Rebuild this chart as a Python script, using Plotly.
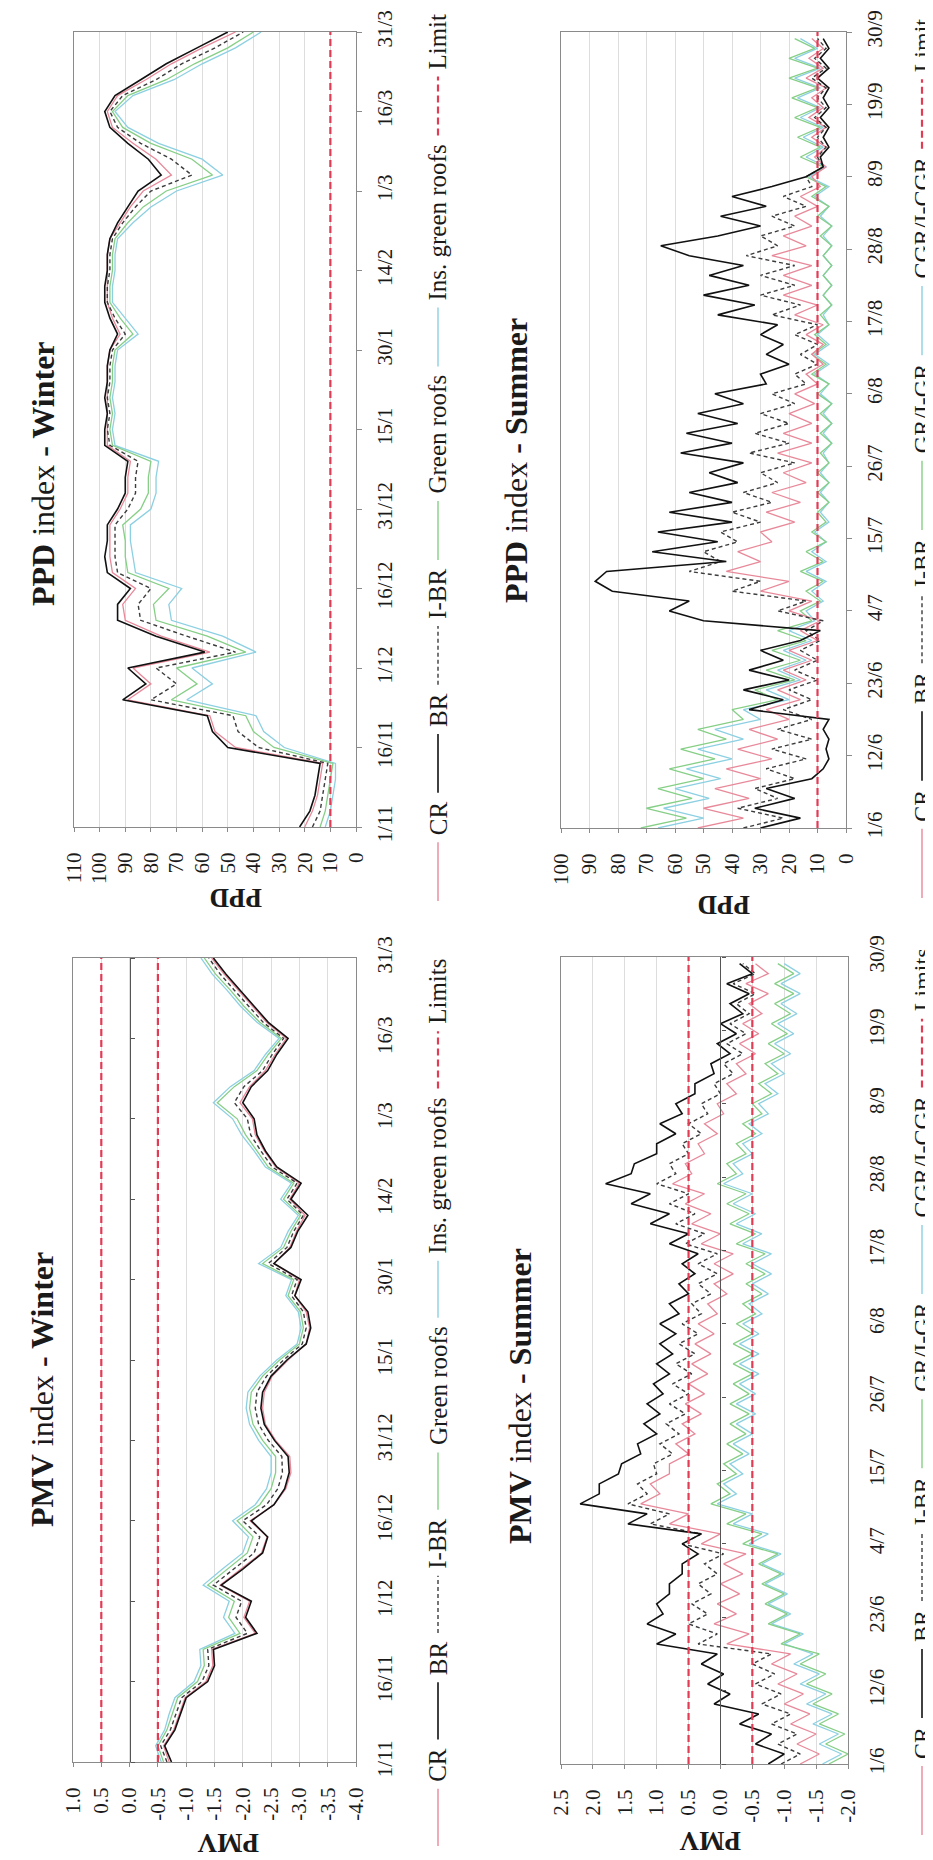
import plotly.graph_objects as go

W, H = 933, 1860
SERIF = "Liberation Serif, Times New Roman, serif"
INK = "#1a1a1a"
FRAME = "#8a8a8a"
GRID = "#dddddd"

# ---------------- time axes ----------------
winter_tick_days = [0, 15, 30, 45, 60, 75, 90, 105, 120, 135, 150]
winter_tick_labels = ["1/11", "16/11", "1/12", "16/12", "31/12", "15/1", "30/1",
                      "14/2", "1/3", "16/3", "31/3"]
summer_tick_days = [0, 11, 22, 33, 44, 55, 66, 77, 88, 99, 110, 121]
summer_tick_labels = ["1/6", "12/6", "23/6", "4/7", "15/7", "26/7", "6/8",
                      "17/8", "28/8", "8/9", "19/9", "30/9"]
winter_days = [3 * i for i in range(51)]      # one reading every 3 days (1/11 .. 31/3)
summer_days = [1.5 * i for i in range(81)]    # one reading every 1.5 days (1/6 .. 29/9)

# ---------------- value axes ----------------
ppd_w_ticks = [110, 100, 90, 80, 70, 60, 50, 40, 30, 20, 10, 0]
ppd_w_labels = ["110", "100", "90", "80", "70", "60", "50", "40", "30", "20", "10", "0"]
ppd_s_ticks = [100, 90, 80, 70, 60, 50, 40, 30, 20, 10, 0]
ppd_s_labels = ["100", "90", "80", "70", "60", "50", "40", "30", "20", "10", "0"]
pmv_w_ticks = [1.0, 0.5, 0.0, -0.5, -1.0, -1.5, -2.0, -2.5, -3.0, -3.5, -4.0]
pmv_w_labels = ["1.0", "0.5", "0.0", "-0.5", "-1.0", "-1.5", "-2.0", "-2.5", "-3.0", "-3.5", "-4.0"]
pmv_s_ticks = [2.5, 2.0, 1.5, 1.0, 0.5, 0.0, -0.5, -1.0, -1.5, -2.0]
pmv_s_labels = ["2.5", "2.0", "1.5", "1.0", "0.5", "0.0", "-0.5", "-1.0", "-1.5", "-2.0"]

winter_names = ["CR", "BR", "I-BR", "Green roofs", "Ins. green roofs"]
summer_names = ["CR", "BR", "I-BR", "GR/I-GR", "CGR/I-CGR"]

# ---------------- PPD - Winter ----------------
ppd_w_cr = [20, 17, 15, 14, 13, 47, 55, 57, 89, 80, 87, 57, 76, 90, 91, 86, 95, 96, 96, 96, 92, 89, 89, 88, 97, 97,
            97, 97, 97, 97, 96, 92, 95, 97, 97, 97, 97, 96, 92, 88, 83, 72, 78, 87, 95, 97, 93, 82, 72, 60, 47]
ppd_w_br = [22, 18, 16, 15, 14, 50, 56, 58, 91, 82, 89, 59, 78, 93, 93, 88, 97, 98, 97, 97, 93, 90, 90, 89, 98, 98,
            97, 98, 97, 97, 96, 93, 96, 98, 98, 97, 97, 96, 93, 89, 85, 76, 81, 89, 96, 98, 94, 84, 74, 62, 50]
ppd_w_ibr = [17, 14, 13, 12, 11, 38, 46, 48, 80, 70, 78, 47, 66, 84, 85, 80, 93, 94, 94, 94, 89, 86, 86, 85, 96, 97,
             96, 97, 96, 96, 95, 90, 94, 97, 97, 96, 96, 95, 91, 86, 80, 64, 72, 84, 93, 96, 91, 78, 68, 55, 44]
ppd_w_gr = [14, 12, 11, 10, 9, 32, 40, 43, 72, 62, 70, 43, 58, 78, 79, 73, 89, 90, 90, 91, 84, 81, 81, 80, 95, 96,
            95, 96, 95, 95, 94, 87, 92, 96, 96, 95, 95, 94, 89, 83, 74, 56, 64, 80, 91, 95, 89, 74, 63, 50, 40]
ppd_w_ins = [12, 10, 9, 8, 8, 28, 36, 39, 66, 56, 64, 39, 52, 72, 73, 68, 86, 87, 88, 88, 80, 78, 78, 77, 94, 95,
             94, 95, 94, 94, 93, 85, 90, 95, 95, 94, 94, 93, 87, 80, 70, 52, 60, 77, 89, 94, 87, 71, 60, 47, 37]

# ---------------- PMV - Winter ----------------
pmv_w_cr = [-0.70, -0.60, -0.78, -0.88, -0.98, -1.35, -1.47, -1.45, -2.22, -2.02, -2.12, -1.60, -1.97, -2.33,
            -2.43, -2.13, -2.55, -2.76, -2.85, -2.83, -2.58, -2.40, -2.35, -2.38, -2.52, -2.80, -3.12, -3.18,
            -3.12, -2.92, -3.00, -2.55, -2.83, -2.95, -3.10, -2.83, -3.00, -2.58, -2.38, -2.22, -2.17, -1.95,
            -2.12, -2.40, -2.57, -2.77, -2.42, -2.17, -1.92, -1.67, -1.45]
pmv_w_br = [-0.74, -0.62, -0.80, -0.90, -1.00, -1.38, -1.50, -1.48, -2.25, -2.05, -2.15, -1.62, -2.00, -2.35,
            -2.44, -2.15, -2.55, -2.74, -2.82, -2.80, -2.56, -2.38, -2.32, -2.35, -2.50, -2.78, -3.12, -3.20,
            -3.15, -2.92, -3.03, -2.55, -2.85, -2.97, -3.15, -2.85, -3.03, -2.60, -2.40, -2.25, -2.20, -2.00,
            -2.15, -2.44, -2.60, -2.80, -2.45, -2.20, -1.95, -1.70, -1.48]
pmv_w_ibr = [-0.66, -0.55, -0.72, -0.82, -0.92, -1.28, -1.40, -1.38, -2.08, -1.88, -1.98, -1.48, -1.84, -2.20,
             -2.30, -2.00, -2.42, -2.62, -2.70, -2.69, -2.45, -2.28, -2.22, -2.25, -2.42, -2.72, -3.05, -3.12,
             -3.07, -2.86, -2.96, -2.45, -2.78, -2.90, -3.07, -2.78, -2.96, -2.52, -2.32, -2.14, -2.08, -1.85,
             -2.02, -2.35, -2.52, -2.72, -2.36, -2.10, -1.85, -1.60, -1.40]
pmv_w_gr = [-0.60, -0.50, -0.66, -0.75, -0.85, -1.20, -1.32, -1.30, -1.95, -1.75, -1.85, -1.38, -1.72, -2.08,
            -2.18, -1.90, -2.30, -2.50, -2.58, -2.58, -2.35, -2.18, -2.12, -2.15, -2.35, -2.65, -3.00, -3.07,
            -3.02, -2.80, -2.90, -2.35, -2.72, -2.85, -3.02, -2.72, -2.90, -2.45, -2.25, -2.05, -1.90, -1.55,
            -1.85, -2.25, -2.45, -2.68, -2.30, -2.02, -1.78, -1.52, -1.32]
pmv_w_ins = [-0.56, -0.46, -0.62, -0.70, -0.80, -1.14, -1.26, -1.24, -1.86, -1.66, -1.76, -1.30, -1.64, -2.00,
             -2.10, -1.82, -2.22, -2.42, -2.50, -2.50, -2.28, -2.12, -2.06, -2.09, -2.30, -2.60, -2.96, -3.03,
             -2.98, -2.76, -2.86, -2.28, -2.67, -2.80, -2.98, -2.67, -2.86, -2.40, -2.20, -1.98, -1.82, -1.48,
             -1.78, -2.20, -2.40, -2.64, -2.25, -1.96, -1.72, -1.46, -1.26]

# ---------------- PPD - Summer ----------------
ppd_s_cr = [52, 36, 50, 34, 46, 30, 42, 26, 38, 24, 34, 20, 28, 16, 24, 14, 22, 12, 20, 10, 16, 9, 20, 12, 30, 20,
            42, 30, 38, 26, 30, 18, 28, 16, 26, 14, 22, 12, 24, 12, 22, 12, 20, 11, 18, 10, 14, 8, 12, 8, 14, 8,
            18, 10, 22, 12, 22, 12, 26, 14, 22, 12, 18, 10, 16, 9, 12, 7, 11, 7, 12, 7, 13, 8, 12, 7, 14, 8, 13, 8, 12]
ppd_s_br = [30, 16, 32, 18, 28, 12, 8, 6, 7, 6, 8, 6, 34, 22, 36, 20, 34, 22, 30, 16, 9, 50, 62, 55, 82, 88,
            84, 42, 68, 45, 66, 40, 62, 40, 55, 38, 48, 36, 58, 40, 56, 38, 52, 36, 46, 28, 30, 20, 28, 22, 30, 24,
            45, 32, 50, 34, 48, 36, 55, 65, 45, 30, 44, 28, 40, 26, 14, 8, 9, 6, 8, 6, 9, 6, 8, 6, 10, 6, 9, 6, 8]
ppd_s_ibr = [36, 22, 38, 24, 32, 18, 28, 14, 26, 12, 24, 12, 22, 12, 20, 10, 18, 10, 16, 9, 14, 8, 24, 14, 40, 30,
             55, 44, 50, 38, 44, 30, 40, 26, 36, 24, 30, 18, 34, 20, 32, 20, 30, 18, 26, 14, 18, 10, 16, 10, 18, 10,
             26, 16, 30, 18, 30, 18, 35, 24, 30, 18, 26, 14, 22, 12, 14, 8, 10, 7, 10, 7, 11, 7, 10, 7, 12, 7, 11, 7, 10]
ppd_s_gr = [72, 56, 70, 54, 66, 50, 62, 46, 58, 42, 52, 36, 40, 24, 32, 18, 28, 16, 26, 14, 24, 12, 16, 9, 14, 8,
            16, 8, 14, 7, 12, 7, 10, 6, 10, 6, 10, 6, 9, 5, 9, 5, 9, 5, 10, 6, 12, 7, 12, 7, 11, 6,
            9, 5, 8, 5, 8, 5, 8, 5, 9, 5, 10, 6, 12, 7, 14, 8, 16, 9, 17, 9, 18, 10, 19, 10, 20, 10, 20, 11, 18]
ppd_s_cgr = [66, 50, 64, 48, 60, 44, 56, 40, 52, 36, 46, 30, 36, 20, 28, 16, 24, 14, 22, 12, 20, 11, 14, 8, 12, 7,
             14, 7, 12, 7, 11, 6, 9, 6, 9, 6, 9, 6, 8, 5, 8, 5, 8, 5, 9, 6, 11, 6, 11, 6, 10, 6,
             8, 5, 8, 5, 8, 5, 8, 5, 8, 5, 9, 6, 11, 6, 13, 7, 14, 8, 15, 8, 16, 9, 17, 9, 18, 9, 18, 10, 16]

# ---------------- PMV - Summer ----------------
pmv_s_cr = [-1.25, -1.55, -1.20, -1.50, -1.10, -1.40, -1.00, -1.30, -0.90, -1.20, -0.80, -1.10, -0.10, -0.45,
            0.10, -0.25, 0.05, -0.30, 0.00, -0.35, -0.05, -0.40, 0.30, 0.00, 0.80, 0.50, 1.25, 0.95, 1.10, 0.80,
            0.80, 0.50, 0.70, 0.40, 0.60, 0.30, 0.55, 0.25, 0.50, 0.20, 0.45, 0.15, 0.40, 0.10, 0.35, 0.05,
            0.20, -0.10, 0.10, -0.20, 0.10, -0.20, 0.30, 0.00, 0.45, 0.15, 0.55, 0.25, 0.75, 0.45, 0.55, 0.25,
            0.35, 0.05, 0.25, -0.05, 0.05, -0.25, -0.10, -0.40, -0.25, -0.55, -0.30, -0.60, -0.35, -0.65,
            -0.45, -0.75, -0.40, -0.75, -0.55]
pmv_s_br = [-0.75, -1.00, -0.55, -0.80, -0.30, -0.60, 0.10, -0.15, 0.20, -0.05, 0.30, 0.05, 1.00, 0.70,
            1.15, 0.90, 1.00, 0.80, 0.80, 0.60, 0.60, 0.35, 0.60, 0.30, 1.45, 1.15, 2.20, 1.90, 1.90, 1.60,
            1.55, 1.25, 1.30, 1.00, 1.20, 0.95, 1.15, 0.90, 1.05, 0.80, 1.00, 0.75, 0.95, 0.70, 0.95, 0.65,
            0.80, 0.50, 0.65, 0.40, 0.60, 0.35, 0.80, 0.50, 1.10, 0.80, 1.40, 1.10, 1.80, 1.40, 1.35, 1.00,
            1.00, 0.70, 0.95, 0.60, 0.70, 0.40, 0.40, 0.10, 0.15, -0.15, 0.05, -0.25, 0.00, -0.35,
            -0.15, -0.45, -0.10, -0.50, -0.30]
pmv_s_ibr = [-0.95, -1.25, -0.90, -1.20, -0.80, -1.10, -0.65, -0.95, -0.55, -0.85, -0.50, -0.80, 0.35, 0.05,
             0.50, 0.20, 0.45, 0.15, 0.35, 0.05, 0.25, -0.05, 0.60, 0.30, 1.10, 0.80, 1.45, 1.15, 1.30, 1.00,
             1.05, 0.75, 0.95, 0.65, 0.85, 0.55, 0.80, 0.50, 0.75, 0.45, 0.70, 0.40, 0.65, 0.35, 0.60, 0.30,
             0.45, 0.15, 0.35, 0.05, 0.35, 0.05, 0.55, 0.25, 0.70, 0.40, 0.80, 0.50, 1.00, 0.70, 0.80, 0.50,
             0.60, 0.30, 0.50, 0.20, 0.30, 0.00, 0.10, -0.20, -0.05, -0.35, -0.10, -0.40, -0.15, -0.45,
             -0.25, -0.55, -0.20, -0.55, -0.35]
pmv_s_gr = [-1.70, -2.00, -1.65, -1.95, -1.55, -1.85, -1.45, -1.75, -1.35, -1.65, -1.25, -1.55, -0.95, -1.25,
            -0.75, -1.05, -0.70, -1.00, -0.65, -0.95, -0.60, -0.90, -0.35, -0.65, -0.10, -0.40, 0.15, -0.15,
            0.05, -0.25, -0.05, -0.35, -0.10, -0.40, -0.15, -0.45, -0.15, -0.45, -0.20, -0.50, -0.20, -0.50,
            -0.20, -0.50, -0.25, -0.55, -0.35, -0.65, -0.40, -0.70, -0.40, -0.70, -0.25, -0.55, -0.15, -0.45,
            -0.10, -0.40, 0.05, -0.25, -0.10, -0.40, -0.25, -0.55, -0.35, -0.65, -0.50, -0.80, -0.60, -0.90,
            -0.70, -1.00, -0.75, -1.05, -0.80, -1.10, -0.85, -1.15, -0.85, -1.15, -0.90]
pmv_s_cgr = [-1.60, -1.90, -1.55, -1.85, -1.45, -1.75, -1.35, -1.65, -1.25, -1.55, -1.15, -1.45, -1.00, -1.30,
             -0.80, -1.10, -0.75, -1.05, -0.70, -1.00, -0.65, -0.95, -0.45, -0.75, -0.20, -0.50, 0.05, -0.25,
             -0.05, -0.35, -0.15, -0.45, -0.20, -0.50, -0.25, -0.55, -0.25, -0.55, -0.30, -0.60, -0.30, -0.60,
             -0.30, -0.60, -0.35, -0.65, -0.45, -0.75, -0.50, -0.80, -0.50, -0.80, -0.35, -0.65, -0.25, -0.55,
             -0.20, -0.50, -0.05, -0.35, -0.20, -0.50, -0.35, -0.65, -0.45, -0.75, -0.60, -0.90, -0.70, -1.00,
             -0.80, -1.10, -0.85, -1.15, -0.90, -1.20, -0.95, -1.25, -0.95, -1.25, -1.00]

ppd_limits = [10]
pmv_limits = [0.5, -0.5]

# ---------------- styles ----------------
STYLES = [
    dict(color="#e8899a", width=1.3),                      # CR
    dict(color="#111111", width=1.6),                      # BR
    dict(color="#3c3c3c", width=1.4, dash="4px,3px"),      # I-BR
    dict(color="#86cf86", width=1.3),                      # Green roofs / GR
    dict(color="#8cd0e2", width=1.3),                      # Ins. green roofs / CGR
]
LIMIT_STYLE = dict(color="#e23c55", width=2.2, dash="7px,4px")
DRAW_ORDER = [4, 3, 0, 2, 1]

panels = [
    dict(n=1, box=(66, 348, 24, 819), vrange=[110, 0], vt=ppd_w_ticks, vl=ppd_w_labels,
         days=winter_days, tmax=150, tt=winter_tick_days, tl=winter_tick_labels,
         series=[ppd_w_cr, ppd_w_br, ppd_w_ibr, ppd_w_gr, ppd_w_ins], names=winter_names,
         limits=ppd_limits, lim_name="Limit", zero=None,
         title="<b>PPD</b> index <b>- Winter</b>", title_xy=(35, 466),
         vtitle="<b>PPD</b>", vtitle_xy=(228, 890), legend=(430, 893, 7, 25)),
    dict(n=2, box=(65, 348, 950, 1754), vrange=[1.0, -4.0], vt=pmv_w_ticks, vl=pmv_w_labels,
         days=winter_days, tmax=150, tt=winter_tick_days, tl=winter_tick_labels,
         series=[pmv_w_cr, pmv_w_br, pmv_w_ibr, pmv_w_gr, pmv_w_ins], names=winter_names,
         limits=pmv_limits, lim_name="Limits", zero=5,
         title="<b>PMV</b> index <b>- Winter</b>", title_xy=(34, 1382),
         vtitle="<b>PMV</b>", vtitle_xy=(220, 1835), legend=(430, 1838, 952, 25)),
    dict(n=3, box=(553, 838, 24, 820), vrange=[100, 0], vt=ppd_s_ticks, vl=ppd_s_labels,
         days=summer_days, tmax=121, tt=summer_tick_days, tl=summer_tick_labels,
         series=[ppd_s_cr, ppd_s_br, ppd_s_ibr, ppd_s_gr, ppd_s_cgr], names=summer_names,
         limits=ppd_limits, lim_name="Limit", zero=None,
         title="<b>PPD</b> index <b>- Summer</b>", title_xy=(508, 452),
         vtitle="<b>PPD</b>", vtitle_xy=(716, 897), legend=(914, 890, 12, 24)),
    dict(n=4, box=(553, 840, 949, 1756), vrange=[2.5, -2.0], vt=pmv_s_ticks, vl=pmv_s_labels,
         days=summer_days, tmax=121, tt=summer_tick_days, tl=summer_tick_labels,
         series=[pmv_s_cr, pmv_s_br, pmv_s_ibr, pmv_s_gr, pmv_s_cgr], names=summer_names,
         limits=pmv_limits, lim_name="Limits", zero=6,
         title="<b>PMV</b> index <b>- Summer</b>", title_xy=(512, 1388),
         vtitle="<b>PMV</b>", vtitle_xy=(702, 1833), legend=(914, 1827, 942, 24)),
]

# Times / Liberation Serif advance widths (1/1000 em) for legend spacing
TW = {' ': 250, '-': 333, '.': 250, '/': 278, 'B': 667, 'C': 667, 'G': 722, 'I': 333, 'L': 611,
      'R': 667, 'e': 444, 'f': 333, 'g': 500, 'i': 278, 'm': 778, 'n': 500, 'o': 500, 'r': 333,
      's': 389, 't': 278}


def text_len(s, size):
    return sum(TW.get(c, 500) for c in s) / 1000.0 * size


fig = go.Figure()
layout = dict(width=W, height=H, margin=dict(l=0, r=0, t=0, b=0), template="none",
              paper_bgcolor="white", plot_bgcolor="white", showlegend=False,
              font=dict(family=SERIF, color=INK))
annotations = []
shapes = []

for p in panels:
    n = p["n"]
    xk = "x" if n == 1 else f"x{n}"
    yk = "y" if n == 1 else f"y{n}"
    x0, x1, y0, y1 = p["box"]
    xdom = [x0 / W, x1 / W]
    ydom = [1 - y1 / H, 1 - y0 / H]

    for k in DRAW_ORDER:
        fig.add_trace(go.Scatter(x=p["series"][k], y=p["days"], mode="lines", name=p["names"][k],
                                 line=STYLES[k], xaxis=xk, yaxis=yk, hoverinfo="skip"))
    for lim in p["limits"]:
        fig.add_trace(go.Scatter(x=[lim, lim], y=[0, p["tmax"]], mode="lines", name=p["lim_name"],
                                 line=LIMIT_STYLE, xaxis=xk, yaxis=yk, hoverinfo="skip"))

    layout["xaxis" if n == 1 else f"xaxis{n}"] = dict(
        domain=xdom, anchor=yk, side="bottom", range=p["vrange"],
        tickmode="array", tickvals=p["vt"], ticktext=p["vl"], tickangle=-90,
        ticks="outside", ticklen=4, tickcolor=FRAME, showgrid=True, gridcolor=GRID, gridwidth=1,
        showline=True, linecolor=FRAME, linewidth=1, mirror=True, zeroline=False,
        tickfont=dict(family=SERIF, size=21, color=INK), ticklabelstandoff=12,
        automargin=False, fixedrange=True)
    has_zero = p["zero"] is not None
    layout["yaxis" if n == 1 else f"yaxis{n}"] = dict(
        domain=ydom, anchor=xk, side="right", range=[0, p["tmax"]],
        tickmode="array", tickvals=p["tt"], ticktext=p["tl"], tickangle=-90,
        ticks="" if has_zero else "outside", ticklen=5, tickcolor=FRAME,
        showgrid=False, showline=True, linecolor=FRAME, linewidth=1, mirror=True, zeroline=False,
        tickfont=dict(family=SERIF, size=21, color=INK),
        ticklabelstandoff=10 if has_zero else 5, automargin=False, fixedrange=True)

    if has_zero:
        # category axis crossing at PMV = 0 (line with tick marks, no labels)
        zk = p["zero"]
        vmax, vmin = p["vrange"]
        zero_px = x0 + (vmax - 0.0) / (vmax - vmin) * (x1 - x0)
        layout[f"yaxis{zk}"] = dict(
            overlaying=yk, anchor="free", position=zero_px / W, side="right",
            range=[0, p["tmax"]], tickmode="array", tickvals=p["tt"], ticks="outside", ticklen=4,
            tickcolor="#555555", showticklabels=False, showline=True, linecolor="#555555",
            linewidth=1.2, showgrid=False, zeroline=False, automargin=False, fixedrange=True)
        fig.add_trace(go.Scatter(x=[None], y=[None], mode="lines", xaxis=xk, yaxis=f"y{zk}",
                                 hoverinfo="skip"))

    # panel title (rotated, reading upward)
    tx, ty = p["title_xy"]
    annotations.append(dict(x=tx / W, y=1 - ty / H, xref="paper", yref="paper", text=p["title"],
                            textangle=-90, showarrow=False, xanchor="center", yanchor="middle",
                            font=dict(family=SERIF, size=32, color=INK)))
    # value-axis title (upside down)
    vx, vy = p["vtitle_xy"]
    annotations.append(dict(x=vx / W, y=1 - vy / H, xref="paper", yref="paper", text=p["vtitle"],
                            textangle=180, showarrow=False, xanchor="center", yanchor="middle",
                            font=dict(family=SERIF, size=27, color=INK)))

    # legend (rotated, reading upward)
    lx, lb, lt, fsize = p["legend"]
    items = [(p["names"][k], STYLES[k]) for k in range(5)] + [(p["lim_name"], LIMIT_STYLE)]
    g1, g2 = 6, 10
    tls = [text_len(nm, fsize) for nm, _ in items]
    m = len(items)
    seg = (lb - lt - sum(tls) - m * g1 - (m - 1) * g2) / m
    yy = lb
    for (nm, st), tl in zip(items, tls):
        shapes.append(dict(type="line", xref="paper", yref="paper", x0=lx / W, x1=lx / W,
                           y0=1 - yy / H, y1=1 - (yy - seg) / H,
                           line=dict(color=st["color"], width=max(st["width"], 1.4),
                                     dash=st.get("dash", "solid"))))
        yy -= seg + g1
        annotations.append(dict(x=lx / W, y=1 - yy / H, xref="paper", yref="paper", text=nm,
                                textangle=-90, showarrow=False, xanchor="center", yanchor="bottom",
                                borderpad=0, font=dict(family=SERIF, size=fsize, color=INK)))
        yy -= tl + g2

layout["annotations"] = annotations
layout["shapes"] = shapes
fig.update_layout(**layout)
fig.write_html("out.html")
